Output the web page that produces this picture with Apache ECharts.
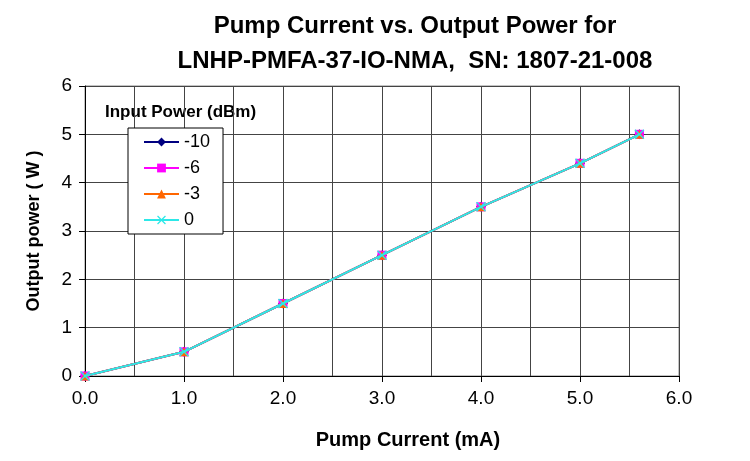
<!DOCTYPE html>
<html><head><meta charset="utf-8">
<script src="https://cdn.jsdelivr.net/npm/echarts@6/dist/echarts.min.js"></script>
<style>html,body{margin:0;padding:0;background:#fff}#c{width:750px;height:461px}</style>
</head><body><div id="c"></div>
<script>
const pumpCurrent = [0, 1, 2, 3, 4, 5, 5.6];
const powerM10 = [0, 0.5, 1.5, 2.5, 3.5, 4.4, 5.0];
const powerM6 = [0, 0.5, 1.5, 2.5, 3.5, 4.4, 5.0];
const powerM3 = [0, 0.5, 1.5, 2.5, 3.5, 4.4, 5.0];
const power0 = [0, 0.5, 1.5, 2.5, 3.5, 4.4, 5.0];
const seriesNames = ['-10', '-6', '-3', '0'];
const titleLines = ['Pump Current vs. Output Power for', 'LNHP-PMFA-37-IO-NMA,  SN: 1807-21-008'];

const font = '"Liberation Sans", Arial, sans-serif';
const xSym = 'path://M1,0L5,4L9,0L10,1L6,5L10,9L9,10L5,6L1,10L0,9L4,5L0,1Z';
const styles = [
  {color: '#000080', symbol: 'diamond', size: 10},
  {color: '#FF00FF', symbol: 'rect', size: 9},
  {color: '#FF6600', symbol: 'triangle', size: 9},
  {color: '#2CE8E8', symbol: xSym, size: 10}
];
const allData = [powerM10, powerM6, powerM3, power0];

const chart = echarts.init(document.getElementById('c'), null, {renderer: 'canvas'});
chart.setOption({
  animation: false,
  title: {
    text: titleLines.join('\n'),
    left: 410, top: 4, textAlign: 'center',
    textStyle: {fontFamily: font, fontWeight: 'bold', fontSize: 24, lineHeight: 35, color: '#000'}
  },
  graphic: [{
    type: 'text', left: 105, top: 104,
    style: {text: 'Input Power (dBm)', font: 'bold 17px ' + font, fill: '#000'}
  }],
  legend: {
    orient: 'vertical', left: 128, top: 128,
    padding: [5, 13, 5, 15],
    itemWidth: 35, itemHeight: 11, itemGap: 8,
    backgroundColor: '#fff',
    borderColor: '#000', borderWidth: 1,
    textStyle: {fontFamily: font, fontSize: 18, color: '#000'},
    data: seriesNames
  },
  grid: {left: 85, right: 71, top: 86, bottom: 85, show: true, borderColor: '#888', borderWidth: 1},
  xAxis: {
    type: 'value', min: 0, max: 6, interval: 1,
    name: 'Pump Current (mA)', nameLocation: 'middle', nameGap: 54,
    nameTextStyle: {fontFamily: font, fontWeight: 'bold', fontSize: 20, color: '#000', padding: [0, 0, 0, 52]},
    axisLine: {show: true, onZero: false, lineStyle: {color: '#000', width: 1}},
    axisTick: {show: true, length: 6, lineStyle: {color: '#000'}},
    axisLabel: {fontFamily: font, fontSize: 19, color: '#000', margin: 13, formatter: v => v.toFixed(1)},
    splitLine: {show: true, lineStyle: {color: '#444', width: 1}},
    minorTick: {show: false, splitNumber: 2},
    minorSplitLine: {show: true, lineStyle: {color: '#444', width: 1}}
  },
  yAxis: {
    type: 'value', min: 0, max: 6, interval: 1,
    name: 'Output power ( W )', nameLocation: 'middle', nameGap: 42,
    nameTextStyle: {fontFamily: font, fontWeight: 'bold', fontSize: 18, color: '#000'},
    axisLine: {show: true, onZero: false, lineStyle: {color: '#000', width: 1}},
    axisTick: {show: true, length: 6, lineStyle: {color: '#000'}},
    axisLabel: {fontFamily: font, fontSize: 19, color: '#000', margin: 13},
    splitLine: {show: true, lineStyle: {color: '#444', width: 1}}
  },
  series: seriesNames.map((n, i) => ({
    name: n, type: 'line',
    data: pumpCurrent.map((x, j) => [x, allData[i][j]]),
    symbol: styles[i].symbol, symbolSize: styles[i].size,
    showSymbol: true,
    lineStyle: {color: styles[i].color, width: 2},
    itemStyle: {color: styles[i].color, borderWidth: 0},
    z: 2 + i
  }))
});
</script></body></html>
